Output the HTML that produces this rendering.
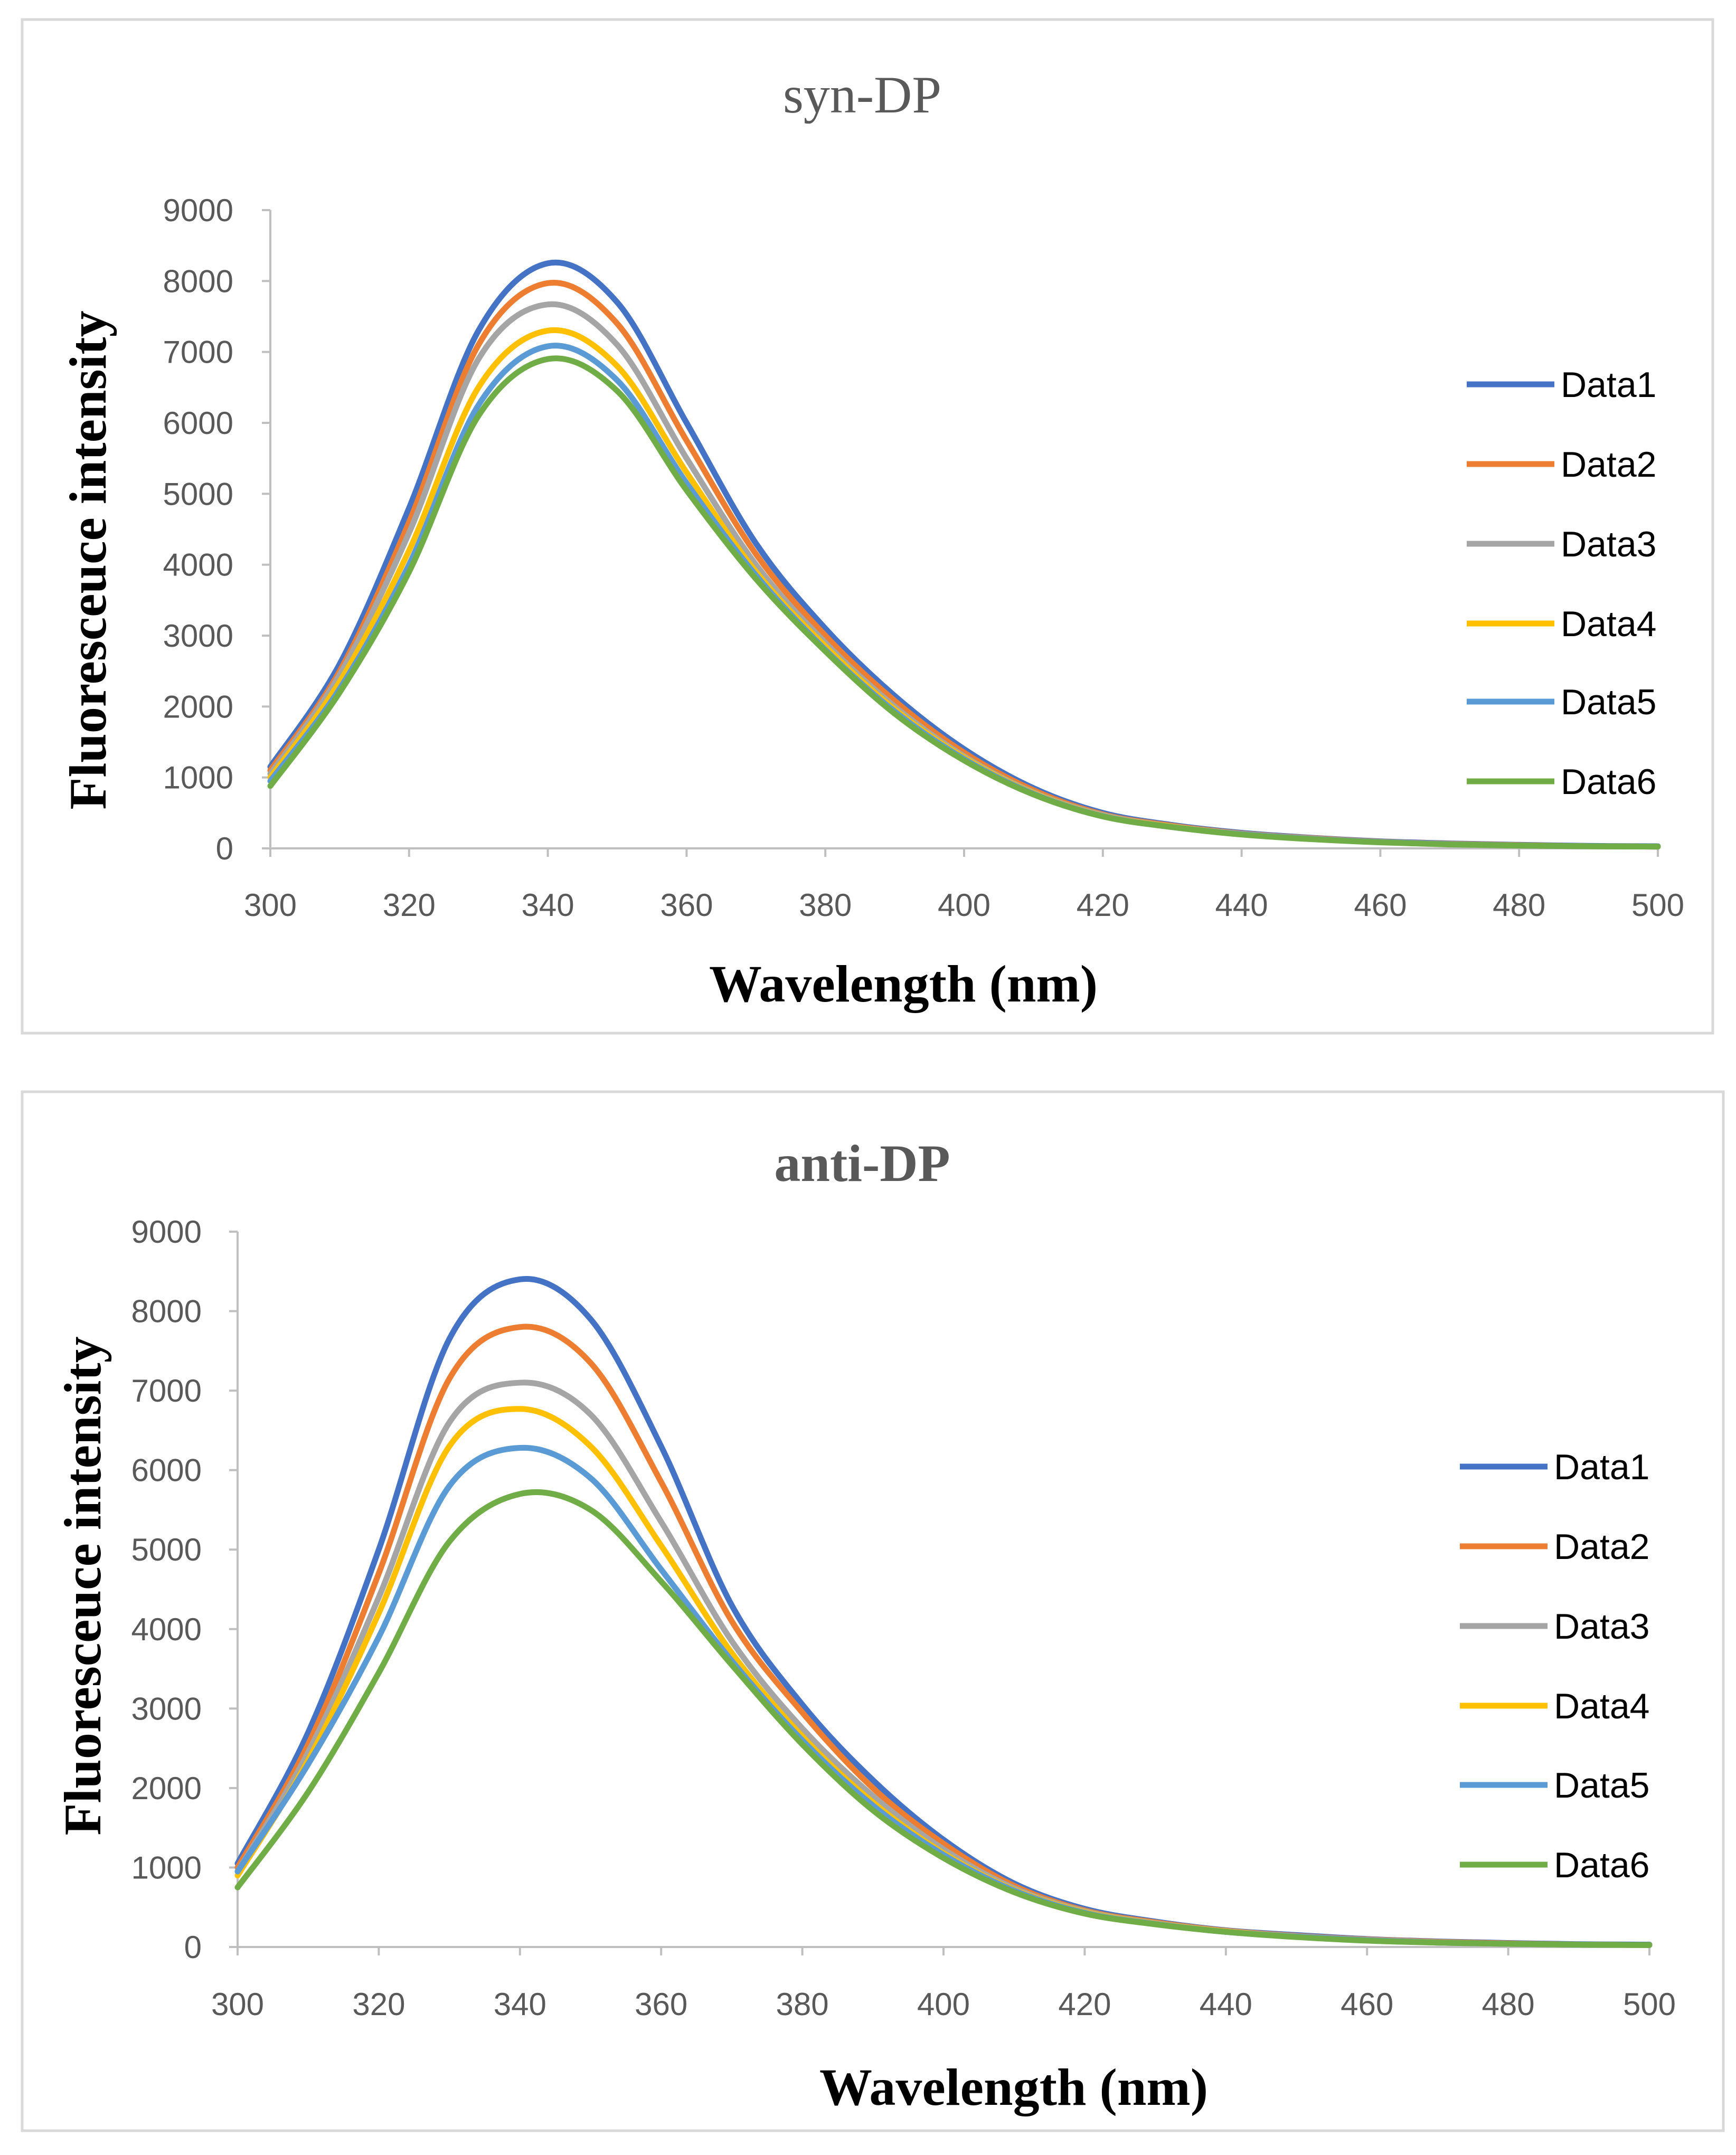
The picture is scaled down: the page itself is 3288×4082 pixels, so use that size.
<!DOCTYPE html>
<html><head><meta charset="utf-8"><style>
html,body{margin:0;padding:0;background:#fff}
svg{display:block}
</style></head><body>
<svg id="root" width="3288" height="4082" viewBox="0 0 3288 4082" xmlns="http://www.w3.org/2000/svg"></svg>
<script>
const wavelengths=[300,310,320,330,340,350,360,370,380,390,400,410,420,430,440,450,460,470,480,490,500];
const seriesNames=["Data1","Data2","Data3","Data4","Data5","Data6"];
const xTicks=[300,320,340,360,380,400,420,440,460,480,500];
const yTicks=[0,1000,2000,3000,4000,5000,6000,7000,8000,9000];
const synData1=[1150,2600,4800,7300,8250,7700,6000,4300,3100,2150,1400,850,500,330,220,150,100,70,50,35,30];
const synData2=[1100,2500,4600,7100,7970,7400,5750,4150,3000,2080,1350,820,480,320,210,145,95,65,45,30,25];
const synData3=[1050,2450,4450,6900,7670,7100,5500,4000,2900,2000,1300,790,470,310,205,140,90,60,40,30,25];
const synData4=[1000,2350,4200,6500,7300,6800,5300,3900,2850,1960,1280,780,460,305,200,135,90,60,40,30,25];
const synData5=[950,2250,4000,6250,7080,6600,5150,3850,2800,1930,1260,770,455,300,200,135,90,60,40,30,25];
const synData6=[880,2200,3900,6100,6900,6450,5050,3800,2780,1900,1240,760,450,300,195,130,85,55,40,30,25];
const antiData1=[1050,2700,5000,7650,8400,7900,6300,4300,3050,2100,1350,800,480,320,210,150,100,70,50,35,30];
const antiData2=[1000,2550,4700,7150,7800,7350,5850,4100,2950,2000,1300,770,460,310,205,140,95,65,45,30,25];
const antiData3=[950,2450,4400,6600,7100,6700,5350,3850,2750,1900,1230,740,450,300,200,135,90,60,40,30,25];
const antiData4=[900,2350,4200,6300,6770,6300,5050,3700,2650,1820,1180,720,440,295,195,130,85,55,40,30,25];
const antiData5=[950,2300,3900,5800,6280,5900,4750,3600,2600,1780,1160,710,430,290,190,130,85,55,40,30,25];
const antiData6=[750,1950,3450,5100,5700,5500,4600,3550,2550,1720,1120,690,420,285,190,125,80,55,40,30,25];

const colors=["#4472C4","#ED7D31","#A5A5A5","#FFC000","#5B9BD5","#70AD47"];
const NS="http://www.w3.org/2000/svg";
const root=document.getElementById('root');
function mk(tag,attrs,parent,text){const e=document.createElementNS(NS,tag);for(const k in attrs)e.setAttribute(k,attrs[k]);if(text!==undefined)e.textContent=text;parent.appendChild(e);return e;}

function chart(cfg){
  const g=mk('g',{},root);
  
  
  const fr=mk('rect',{x:cfg.frame[0],y:cfg.frame[1],width:cfg.frame[2],height:cfg.frame[3],fill:'#fff',stroke:'#d9d9d9','stroke-width':5},g);
  
  
  const xs=v=>cfg.x0+(v-300)/200*(cfg.x1-cfg.x0);
  const ys=v=>cfg.y0-(v/9000)*(cfg.y0-cfg.y1);
  const t=mk('text',{x:cfg.titleX,y:cfg.titleY,'text-anchor':'middle','font-family':'Liberation Serif, serif','font-size':100,'font-weight':cfg.titleBold?'bold':'normal',fill:'#595959'},g,cfg.title);
  
  
  const ya=mk('line',{x1:cfg.x0,y1:cfg.y0,x2:cfg.x0,y2:cfg.y1,stroke:'#bfbfbf','stroke-width':4},g);
  
  
  const xa=mk('line',{x1:cfg.x0,y1:cfg.y0,x2:cfg.x1,y2:cfg.y0,stroke:'#bfbfbf','stroke-width':4},g);
  
  
  yTicks.forEach(v=>{
    const y=ys(v);
    const tk=mk('line',{x1:cfg.x0-16,y1:y,x2:cfg.x0,y2:y,stroke:'#bfbfbf','stroke-width':4},g);
    
    
    const l=mk('text',{x:cfg.ylabX,y:y+21,'text-anchor':'end','font-family':'Liberation Sans, sans-serif','font-size':60,fill:'#595959'},g,String(v));
    
    
  });
  xTicks.forEach(v=>{
    const x=xs(v);
    const tk=mk('line',{x1:x,y1:cfg.y0,x2:x,y2:cfg.y0+16,stroke:'#bfbfbf','stroke-width':4},g);
    
    
    const l=mk('text',{x:x,y:cfg.xlabY,'text-anchor':'middle','font-family':'Liberation Sans, sans-serif','font-size':60,fill:'#595959'},g,String(v));
    
    
  });
  const xt=mk('text',{x:cfg.xtX,y:cfg.xtY,'text-anchor':'middle','font-family':'Liberation Serif, serif','font-size':100,'font-weight':'bold',fill:'#000'},g,'Wavelength (nm)');
  
  
  const yt=mk('text',{x:0,y:0,'text-anchor':'middle','font-family':'Liberation Serif, serif','font-size':100,'font-weight':'bold',fill:'#000',transform:`translate(${cfg.ytX},${cfg.ytY}) rotate(-90)`},g,'Fluoresceuce intensity');
  
  
  cfg.series.forEach((arr,i)=>{
    const pts=arr.map((v,j)=>[xs(wavelengths[j]),ys(v)]);
    let d='M'+pts[0][0]+','+pts[0][1];
    for(let j=0;j<pts.length-1;j++){
      const p0=pts[Math.max(j-1,0)],p1=pts[j],p2=pts[j+1],p3=pts[Math.min(j+2,pts.length-1)];
      const c1=[p1[0]+(p2[0]-p0[0])/6,p1[1]+(p2[1]-p0[1])/6];
      const c2=[p2[0]-(p3[0]-p1[0])/6,p2[1]-(p3[1]-p1[1])/6];
      d+=` C${c1[0]},${c1[1]} ${c2[0]},${c2[1]} ${p2[0]},${p2[1]}`;
    }
    const p=mk('path',{d:d,fill:'none',stroke:colors[i],'stroke-width':11,'stroke-linejoin':'round','stroke-linecap':'round'},g);
    
    
    const ly=cfg.legY[i];
    const ll=mk('line',{x1:cfg.legX,y1:ly,x2:cfg.legX+166,y2:ly,stroke:colors[i],'stroke-width':11},g);
    
    
    const lt=mk('text',{x:cfg.legX+178,y:ly+24,'font-family':'Liberation Sans, sans-serif','font-size':68,fill:'#000'},g,seriesNames[i]);
    
    
  });
}
chart({id:'syn',frame:[42,37,3202,1920],x0:512,x1:3140,y0:1607,y1:398,title:'syn-DP',titleBold:false,titleX:1633,titleY:213,
  ylabX:442,xlabY:1735,xtX:1711,xtY:1897,ytX:200,ytY:1061,legX:2778,legY:[728,879,1030,1181,1329,1480],
  series:[synData1,synData2,synData3,synData4,synData5,synData6]});
chart({id:'anti',frame:[42,2068,3222,1968],x0:450,x1:3124,y0:3688,y1:2333,title:'anti-DP',titleBold:true,titleX:1633,titleY:2237,
  ylabX:382,xlabY:3817,xtX:1920,xtY:3987,ytX:190,ytY:3004,legX:2765,legY:[2778,2929,3080,3231,3381,3532],
  series:[antiData1,antiData2,antiData3,antiData4,antiData5,antiData6]});
</script>
</body></html>
